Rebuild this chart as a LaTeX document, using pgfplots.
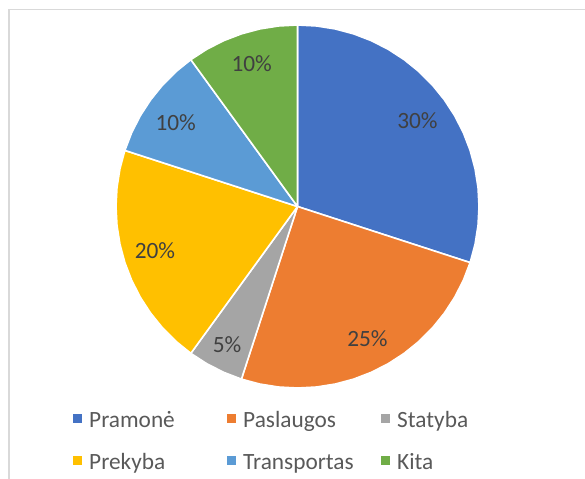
\documentclass[border=0pt]{standalone}
\usepackage{pgfplots}
\pgfplotsset{compat=1.18}
\usepackage{fontspec}
\setmainfont{Carlito}
\definecolor{cA}{HTML}{4472C4}
\definecolor{cB}{HTML}{ED7D31}
\definecolor{cC}{HTML}{A5A5A5}
\definecolor{cD}{HTML}{FFC000}
\definecolor{cE}{HTML}{5B9BD5}
\definecolor{cF}{HTML}{70AD47}
\definecolor{lab}{HTML}{404040}
\definecolor{leg}{HTML}{595959}
\definecolor{frm}{HTML}{D9D9D9}
\newcommand{\bigf}{\fontsize{23.4}{28}\selectfont}
\begin{document}
\begin{tikzpicture}
% shares: Pramone 30, Paslaugos 25, Statyba 5, Prekyba 20, Transportas 10, Kita 10 (%)
% polar data: (angle in degrees, radius); 1% = 3.6 degrees, start at 90 deg, clockwise
\begin{axis}[
  x=1bp, y=1bp, scale only axis,
  xmin=-297.5, xmax=287.5, ymin=-272.5, ymax=206.5,
  hide axis, clip=false, no markers,
  data cs=polar,
  legend columns=3,
  legend cell align=left,
  legend style={at={(axis cs:-224.5,-204.5)}, anchor=north west, draw=none, fill=none,
    inner sep=0pt, row sep=21bp,
    nodes={inner sep=0pt, text height=16bp, text depth=5bp, anchor=west, text=leg},
    /tikz/every odd column/.append style={column sep=7bp},
    /tikz/every even column/.append style={column sep=0bp},
    font=\bigf},
  legend image code/.code={\fill[#1,draw=none] (0bp,-1.5bp) rectangle (9bp,7.5bp);},
  every axis plot/.append style={draw=white, line width=1.6bp, line join=round},
]
\draw[frm, line width=1.4bp] (axis cs:-288.7,-290) -- (axis cs:-288.7,196.8) -- (axis cs:300,196.8);
\addplot[fill=cA] coordinates {(0,0) (90,181.5) (84,181.5) (78,181.5) (72,181.5) (66,181.5) (60,181.5) (54,181.5) (48,181.5) (42,181.5) (36,181.5) (30,181.5) (24,181.5) (18,181.5) (12,181.5) (6,181.5) (0,181.5) (-6,181.5) (-12,181.5) (-18,181.5) (0,0)};
\addlegendentry{\makebox[138bp][l]{Pramonė}}
\addplot[fill=cB] coordinates {(0,0) (-18,181.5) (-24,181.5) (-30,181.5) (-36,181.5) (-42,181.5) (-48,181.5) (-54,181.5) (-60,181.5) (-66,181.5) (-72,181.5) (-78,181.5) (-84,181.5) (-90,181.5) (-96,181.5) (-102,181.5) (-108,181.5) (0,0)};
\addlegendentry{\makebox[138bp][l]{Paslaugos}}
\addplot[fill=cC] coordinates {(0,0) (-108,181.5) (-114,181.5) (-120,181.5) (-126,181.5) (0,0)};
\addlegendentry{\makebox[138bp][l]{Statyba}}
\addplot[fill=cD] coordinates {(0,0) (-126,181.5) (-132,181.5) (-138,181.5) (-144,181.5) (-150,181.5) (-156,181.5) (-162,181.5) (-168,181.5) (-174,181.5) (-180,181.5) (-186,181.5) (-192,181.5) (-198,181.5) (0,0)};
\addlegendentry{\makebox[138bp][l]{Prekyba}}
\addplot[fill=cE] coordinates {(0,0) (-198,181.5) (-204,181.5) (-210,181.5) (-216,181.5) (-222,181.5) (-228,181.5) (-234,181.5) (0,0)};
\addlegendentry{\makebox[138bp][l]{Transportas}}
\addplot[fill=cF] coordinates {(0,0) (-234,181.5) (-240,181.5) (-246,181.5) (-252,181.5) (-258,181.5) (-264,181.5) (-270,181.5) (0,0)};
\addlegendentry{\makebox[138bp][l]{Kita}}
\begin{scope}[every node/.style={text=lab, font=\bigf, inner sep=0pt}]
\node at (axis cs:120,85.7) {30\%};
\node at (axis cs:70,-132.2) {25\%};
\node at (axis cs:-70.5,-138) {5\%};
\node at (axis cs:-142.5,-43.8) {20\%};
\node at (axis cs:-121.8,83.7) {10\%};
\node at (axis cs:-45.8,143.2) {10\%};
\end{scope}
\end{axis}
\pgfresetboundingbox
\useasboundingbox (current axis.south west) rectangle (current axis.north east);
\end{tikzpicture}
\end{document}
